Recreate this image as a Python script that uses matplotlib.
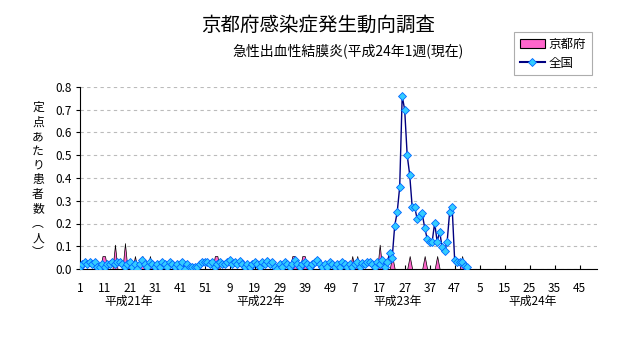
import matplotlib.pyplot as plt
import numpy as np
from matplotlib.patches import Patch
from matplotlib.lines import Line2D
from matplotlib.transforms import blended_transform_factory

plt.rcParams['font.family'] = ['Noto Sans CJK JP', 'DejaVu Sans']

# 全国 定点あたり患者数 (2009年第1週〜2011年第52週)
national = [
    0.01, 0.02, 0.03, 0.02, 0.03, 0.02, 0.03, 0.01, 0.01, 0.02,
    0.01, 0.02, 0.02, 0.03, 0.02, 0.03, 0.03, 0.02, 0.01, 0.02,
    0.03, 0.01, 0.02, 0.00, 0.02, 0.04, 0.02, 0.01, 0.03, 0.02,
    0.01, 0.02, 0.01, 0.03, 0.02, 0.01, 0.03, 0.02, 0.01, 0.02,
    0.01, 0.03, 0.00, 0.02, 0.01, 0.01, 0.01, 0.01, 0.02, 0.03,
    0.03, 0.03, 0.02, 0.03, 0.01, 0.02, 0.03, 0.02, 0.02, 0.03,
    0.04, 0.02, 0.03, 0.02, 0.035, 0.02, 0.01, 0.02, 0.01, 0.02,
    0.03, 0.02, 0.01, 0.03, 0.02, 0.035, 0.02, 0.03, 0.01, 0.00,
    0.02, 0.01, 0.03, 0.02, 0.01, 0.02, 0.04, 0.02, 0.01, 0.02,
    0.03, 0.02, 0.01, 0.02, 0.03, 0.04, 0.02, 0.01, 0.02, 0.01,
    0.03, 0.02, 0.01, 0.02, 0.01, 0.03, 0.02, 0.01, 0.02, 0.01,
    0.02, 0.03, 0.01, 0.025, 0.02, 0.03, 0.03, 0.02, 0.01,
    0.03, 0.02, 0.04, 0.01, 0.03, 0.07, 0.05,
    0.19, 0.25, 0.36, 0.76, 0.70, 0.50, 0.415, 0.273, 0.273, 0.219,
    0.232, 0.244, 0.182, 0.133, 0.12, 0.12, 0.203, 0.12, 0.164, 0.095,
    0.08, 0.12, 0.25, 0.273, 0.04, 0.03, 0.03, 0.03, 0.012, 0.01,
]

# 京都府 定点あたり患者数
kyoto = [
    0, 0, 0, 0, 0, 0, 0, 0, 0, 0.057,
    0.057, 0, 0, 0, 0.107, 0, 0, 0, 0.114, 0,
    0, 0, 0.057, 0, 0, 0.057, 0, 0, 0.057, 0,
    0, 0, 0, 0, 0, 0, 0, 0, 0, 0,
    0, 0, 0, 0, 0, 0, 0, 0, 0, 0,
    0, 0, 0, 0, 0.057, 0.057, 0, 0, 0, 0,
    0, 0, 0, 0, 0, 0, 0, 0, 0, 0,
    0, 0, 0, 0, 0, 0, 0, 0, 0, 0,
    0, 0, 0, 0, 0, 0.057, 0.057, 0, 0, 0.057,
    0.057, 0, 0, 0, 0, 0, 0, 0, 0, 0,
    0, 0, 0, 0, 0, 0, 0, 0, 0, 0.057,
    0, 0.057, 0, 0, 0, 0, 0, 0, 0, 0,
    0.107, 0, 0, 0, 0, 0.057, 0, 0, 0, 0,
    0, 0, 0.057, 0, 0, 0, 0, 0, 0.057, 0,
    0, 0, 0, 0.057, 0, 0, 0, 0, 0, 0,
    0, 0, 0, 0.057, 0, 0,
]

week_labels = ['1', '11', '21', '31', '41', '51', '9', '19', '29', '39', '49',
               '7', '17', '27', '37', '47', '5', '15', '25', '35', '45']
year_labels = ['平成21年', '平成22年', '平成23年', '平成24年']
year_pos = [19.5, 72.5, 127, 181]
n_weeks = 208

fig = plt.figure(figsize=(6.32, 3.48), dpi=100)
ax = fig.add_axes([80 / 632, 1 - 269 / 348, 517 / 632, 182 / 348])

x = np.arange(len(national))
xk = np.arange(len(kyoto))
ax.fill_between(xk, kyoto, 0, facecolor='#FF66CC', edgecolor='black', linewidth=0.5, zorder=2)
ax.plot(x, national, color='#000080', linewidth=1.0, marker='D', markersize=4.0,
        markerfacecolor='#33CCFF', markeredgecolor='#0066FF', markeredgewidth=0.6, zorder=3)

ax.set_xlim(0, n_weeks - 1)
ax.set_ylim(0, 0.8)
ax.set_yticks(np.arange(0, 0.81, 0.1))
ax.set_yticklabels([f'{v:.1f}' for v in np.arange(0, 0.81, 0.1)], fontsize=8.5)
ax.set_xticks(np.arange(0, n_weeks, 10))
ax.set_xticklabels(week_labels, fontsize=8.5)
ax.tick_params(axis='x', direction='in', length=3, pad=9)
ax.tick_params(axis='y', direction='out', length=3, pad=3)

ax.grid(axis='y', color='#BBBBBB', linestyle=(0, (3, 3)), linewidth=0.8)
ax.set_axisbelow(True)
for s in ['top', 'right']:
    ax.spines[s].set_visible(False)

trans = blended_transform_factory(ax.transData, ax.transAxes)
for pos, lab in zip(year_pos, year_labels):
    ax.text(pos, -0.18, lab, transform=trans, ha='center', va='center', fontsize=8.5)

# 縦書きの軸ラベル
ylab = '定点あたり患者数︵人︶'
fig.text(38 / 632, 1 - 180 / 348, '\n'.join(ylab), ha='center', va='center',
         fontsize=8.5, linespacing=1.15)

fig.text(318 / 632, 1 - 25 / 348, '京都府感染症発生動向調査', ha='center', va='center', fontsize=14)
fig.text(348 / 632, 1 - 51 / 348, '急性出血性結膜炎(平成24年1週(現在)', ha='center', va='center', fontsize=10)

handles = [Patch(facecolor='#FF66CC', edgecolor='black', linewidth=0.8),
           Line2D([], [], color='#000080', marker='D', markersize=4.0,
                  markerfacecolor='#33CCFF', markeredgecolor='#0066FF', markeredgewidth=0.6)]
leg = fig.legend(handles, ['京都府', '全国'], loc='upper right', bbox_to_anchor=(598 / 632, 1 - 26 / 348),
                 fontsize=9, frameon=True, fancybox=False, borderpad=0.45, handlelength=2.0,
                 handletextpad=0.3, labelspacing=0.45)
leg.get_frame().set_edgecolor('#999999')
leg.get_frame().set_linewidth(0.8)

plt.savefig('out.png', dpi=100)
